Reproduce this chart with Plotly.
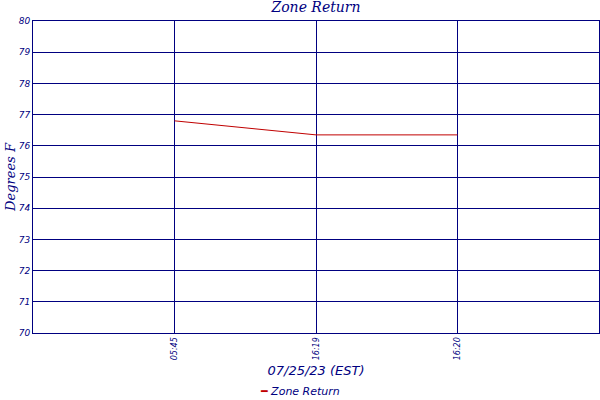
import plotly.graph_objects as go

x_labels = ["05:45", "16:19", "16:20"]
x_pos = [1, 2, 3]
values = [76.8, 76.35, 76.35]
y_ticks = [70, 71, 72, 73, 74, 75, 76, 77, 78, 79, 80]
series_name = "Zone Return"

navy = "#000080"
red = "#c00000"

fig = go.Figure()
fig.add_trace(go.Scatter(x=x_pos, y=values, mode="lines", name=series_name,
                         line=dict(color=red, width=1), showlegend=False))

fig.update_layout(
    width=600, height=400, autosize=False,
    margin=dict(l=33, r=1, t=21, b=67, autoexpand=False),
    paper_bgcolor="white", plot_bgcolor="white",
    title=dict(text="Zone Return", xref="paper", x=0.5, xanchor="center",
               yref="container", y=0.995, yanchor="top",
               font=dict(family="DejaVu Serif", size=14, color=navy, style="italic")),
    font=dict(color=navy),
    annotations=[dict(
        text=f"<span style='color:{red};font-style:normal'>\u2501</span> {series_name}",
        xref="paper", yref="paper", x=(300 - 33) / 566, y=-(391 - 333) / 312,
        xanchor="center", yanchor="middle", showarrow=False,
        font=dict(family="DejaVu Sans", size=11, color=navy, style="italic"))],
)
fig.update_xaxes(range=[0, 4], tickvals=x_pos, ticktext=x_labels, tickangle=-90,
                 automargin=False,
                 showgrid=True, gridcolor=navy, gridwidth=1,
                 showline=True, linecolor=navy, linewidth=1, mirror=True,
                 zeroline=False, ticks="",
                 tickfont=dict(family="DejaVu Sans", size=8, color=navy, style="italic"),
                 title=dict(text="07/25/23 (EST)", standoff=6,
                            font=dict(family="DejaVu Sans", size=13, color=navy, style="italic")))
fig.update_yaxes(range=[70, 80], tickvals=y_ticks, automargin=False,
                 showgrid=True, gridcolor=navy, gridwidth=1,
                 showline=True, linecolor=navy, linewidth=1, mirror=True,
                 zeroline=False, ticks="",
                 tickfont=dict(family="DejaVu Sans", size=9, color=navy, style="italic"),
                 title=dict(text="Degrees F", standoff=0,
                            font=dict(family="DejaVu Serif", size=13, color=navy, style="italic")))

post = ("document.documentElement.style.margin='0';"
        "document.body.style.margin='0';document.body.style.overflow='hidden';"
        "Plotly.relayout('{plot_id}', {width: 600, height: 400});")

fig.write_html("out.html", config={"responsive": False, "displayModeBar": False},
               post_script=post)
